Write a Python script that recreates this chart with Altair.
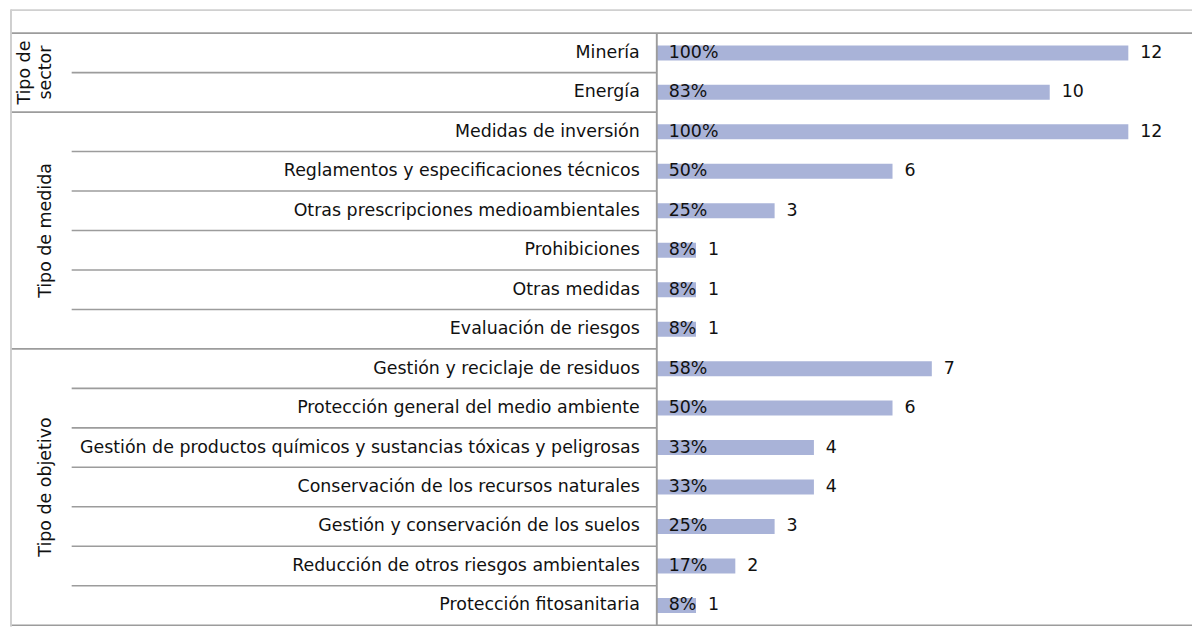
import altair as alt
import pandas as pd

# ---- data ----
groups = ["Tipo de sector", "Tipo de medida", "Tipo de objetivo"]
group_labels = ["Tipo de\nsector", "Tipo de medida", "Tipo de objetivo"]
group_sizes = [2, 6, 7]
categories = [
    "Minería",
    "Energía",
    "Medidas de inversión",
    "Reglamentos y especificaciones técnicos",
    "Otras prescripciones medioambientales",
    "Prohibiciones",
    "Otras medidas",
    "Evaluación de riesgos",
    "Gestión y reciclaje de residuos",
    "Protección general del medio ambiente",
    "Gestión de productos químicos y sustancias tóxicas y peligrosas",
    "Conservación de los recursos naturales",
    "Gestión y conservación de los suelos",
    "Reducción de otros riesgos ambientales",
    "Protección fitosanitaria",
]
counts = [12, 10, 12, 6, 3, 1, 1, 1, 7, 6, 4, 4, 3, 2, 1]
percents = [100, 83, 100, 50, 25, 8, 8, 8, 58, 50, 33, 33, 25, 17, 8]

# ---- tables built from the arrays ----
group_of = []
for g, n in zip(groups, group_sizes):
    group_of += [g] * n
rows = pd.DataFrame({
    "categoria": categories,
    "grupo": group_of,
    "n": counts,
    "zero": [0] * len(categories),
    "pct": [f"{p}%" for p in percents],
    "row": [i + 0.5 for i in range(len(categories))],
})
rows["b0"] = rows["row"] - 0.19
rows["b1"] = rows["row"] + 0.19

starts = []
acc = 0
for n in group_sizes:
    starts.append(acc)
    acc += n
n_rows = acc
group_df = pd.DataFrame({
    "label": group_labels,
    "mid": [s + n / 2 for s, n in zip(starts, group_sizes)],
    "lines": [lab.count("\n") + 1 for lab in group_labels],
})
group_bounds = pd.DataFrame({"b": [s for s in starts if s > 0]})
inner_bounds = pd.DataFrame({"b": [k for k in range(1, n_rows) if k not in starts]})
outer_bounds = pd.DataFrame({"b": [0, n_rows]})

W, H = 1190, 620
AXIS_X = 652
px_per_row = 39.67
y0 = -23.7 / px_per_row
y1 = (H - 23.7) / px_per_row
px_per_unit = 39.5
x0 = -AXIS_X / px_per_unit
x1 = (W - AXIS_X) / px_per_unit

yscale = alt.Scale(domain=[y0, y1], reverse=True, zero=False, nice=False)
xscale = alt.Scale(domain=[x0, x1], zero=False, nice=False)

FONT = "DejaVu Sans"
FS = 17.5
LINE = "#9c9c9c"
BAR = "#a9b3d8"
TXT = "#111111"

base = alt.Chart(rows)

bars = base.mark_bar(color=BAR).encode(
    x=alt.X("zero:Q", scale=xscale, axis=None),
    x2="n:Q",
    y=alt.Y("b0:Q", scale=yscale, axis=None),
    y2="b1:Q",
)

cat_text = base.mark_text(align="right", baseline="middle", font=FONT, fontSize=FS, color=TXT).encode(
    x=alt.value(635),
    y=alt.Y("row:Q", scale=yscale),
    text="categoria:N",
)

pct_text = base.mark_text(align="left", baseline="middle", dx=12, font=FONT, fontSize=FS, color=TXT).encode(
    x=alt.X("zero:Q", scale=xscale),
    y=alt.Y("row:Q", scale=yscale),
    text="pct:N",
)

n_text = base.mark_text(align="left", baseline="middle", dx=12, font=FONT, fontSize=FS, color=TXT).encode(
    x=alt.X("n:Q", scale=xscale),
    y=alt.Y("row:Q", scale=yscale),
    text="n:Q",
)

grp_base = alt.Chart(group_df)
grp_text1 = grp_base.mark_text(
    angle=270, align="center", baseline="alphabetic", font=FONT, fontSize=FS, color=TXT
).encode(
    x=alt.value(43.5),
    y=alt.Y("mid:Q", scale=yscale),
    text="label:N",
).transform_filter("datum.lines == 1")
grp_text2 = grp_base.mark_text(
    angle=270, align="center", baseline="alphabetic", font=FONT, fontSize=FS, color=TXT,
    lineBreak="\n", lineHeight=21,
).encode(
    x=alt.value(22),
    y=alt.Y("mid:Q", scale=yscale),
    text="label:N",
).transform_filter("datum.lines == 2")

grp_lines = alt.Chart(group_bounds).mark_rule(color=LINE, strokeWidth=1.6).encode(
    x=alt.value(3), x2=alt.value(AXIS_X), y=alt.Y("b:Q", scale=yscale)
)
inner_lines = alt.Chart(inner_bounds).mark_rule(color=LINE, strokeWidth=1.6).encode(
    x=alt.value(64), x2=alt.value(AXIS_X), y=alt.Y("b:Q", scale=yscale)
)
outer_lines = alt.Chart(outer_bounds).mark_rule(color=LINE, strokeWidth=1.6).encode(
    x=alt.value(3), x2=alt.value(W), y=alt.Y("b:Q", scale=yscale)
)
axis_line = alt.Chart(outer_bounds).mark_rule(color=LINE, strokeWidth=1.6).encode(
    x=alt.value(AXIS_X), y=alt.datum(0, scale=yscale), y2=alt.datum(n_rows)
)
left_border = alt.Chart(outer_bounds).mark_rule(color="#cccccc", strokeWidth=1.5).encode(
    x=alt.value(3), y=alt.value(0), y2=alt.value(H)
)
top_border = alt.Chart(outer_bounds).mark_rule(color="#d0d0d0", strokeWidth=1.5).encode(
    x=alt.value(3), x2=alt.value(W), y=alt.value(0.8)
)

chart = alt.layer(
    bars, grp_lines, inner_lines, outer_lines, axis_line, left_border, top_border,
    cat_text, pct_text, n_text, grp_text1, grp_text2,
).properties(
    width=W, height=H, padding=0, autosize=alt.AutoSizeParams(type="none")
).configure_view(stroke=None)

chart.save("out.html", embed_options={"renderer": "svg", "actions": False})
